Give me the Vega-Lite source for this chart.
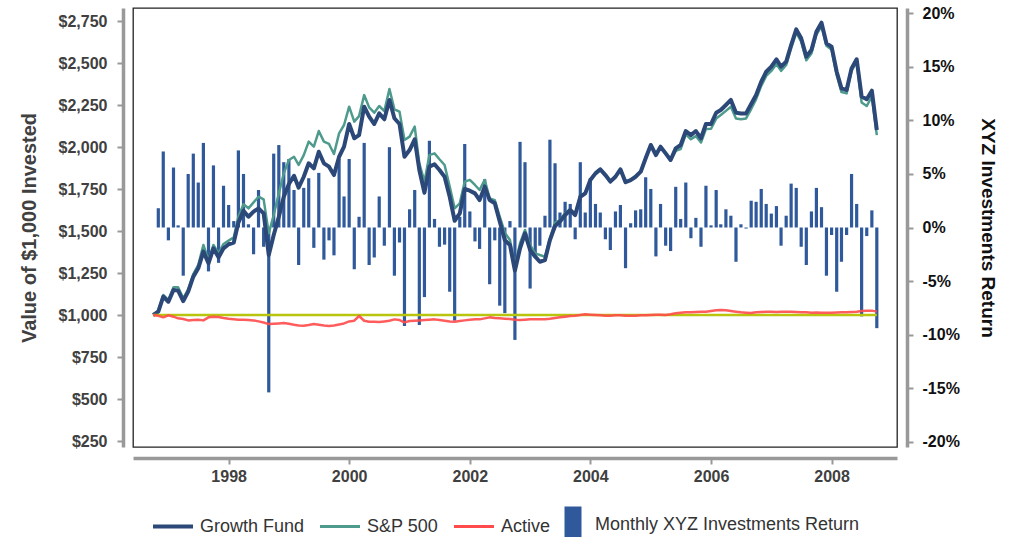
{
"$schema": "https://vega.github.io/schema/vega-lite/v6.json",
"width": 764, "height": 439,
"autosize": {"type": "none"},
"padding": {"left": 133, "top": 8, "right": 112, "bottom": 90},
"data": {"values": [
{"d":"1996-10-01","g":1000,"s":1000,"a":1000,"r":null},
{"d":"1996-11-01","g":1020,"s":1026,"a":995,"r":0.018},
{"d":"1996-12-01","g":1109,"s":1119,"a":986,"r":0.071},
{"d":"1997-01-01","g":1079,"s":1089,"a":998,"r":-0.012},
{"d":"1997-02-01","g":1149,"s":1165,"a":990,"r":0.056},
{"d":"1997-03-01","g":1145,"s":1165,"a":980,"r":0.002},
{"d":"1997-04-01","g":1083,"s":1099,"a":976,"r":-0.045},
{"d":"1997-05-01","g":1139,"s":1153,"a":968,"r":0.050},
{"d":"1997-06-01","g":1228,"s":1244,"a":970,"r":0.069},
{"d":"1997-07-01","g":1278,"s":1298,"a":972,"r":0.042},
{"d":"1997-08-01","g":1377,"s":1417,"a":968,"r":0.079},
{"d":"1997-09-01","g":1308,"s":1327,"a":986,"r":-0.041},
{"d":"1997-10-01","g":1397,"s":1417,"a":990,"r":0.058},
{"d":"1997-11-01","g":1343,"s":1367,"a":988,"r":-0.033},
{"d":"1997-12-01","g":1397,"s":1423,"a":982,"r":0.039},
{"d":"1998-01-01","g":1421,"s":1443,"a":978,"r":0.021},
{"d":"1998-02-01","g":1431,"s":1462,"a":975,"r":0.006},
{"d":"1998-03-01","g":1550,"s":1585,"a":972,"r":0.072},
{"d":"1998-04-01","g":1620,"s":1660,"a":972,"r":0.050},
{"d":"1998-05-01","g":1585,"s":1635,"a":970,"r":0.003},
{"d":"1998-06-01","g":1615,"s":1670,"a":968,"r":-0.025},
{"d":"1998-07-01","g":1635,"s":1704,"a":962,"r":0.035},
{"d":"1998-08-01","g":1605,"s":1688,"a":955,"r":-0.018},
{"d":"1998-09-01","g":1357,"s":1486,"a":946,"r":-0.154},
{"d":"1998-10-01","g":1476,"s":1595,"a":948,"r":0.069},
{"d":"1998-11-01","g":1585,"s":1724,"a":950,"r":0.077},
{"d":"1998-12-01","g":1704,"s":1843,"a":952,"r":0.061},
{"d":"1999-01-01","g":1780,"s":1923,"a":948,"r":0.064},
{"d":"1999-02-01","g":1829,"s":1942,"a":942,"r":0.035},
{"d":"1999-03-01","g":1758,"s":1893,"a":938,"r":-0.035},
{"d":"1999-04-01","g":1823,"s":1952,"a":936,"r":0.037},
{"d":"1999-05-01","g":1903,"s":2032,"a":940,"r":0.046},
{"d":"1999-06-01","g":1873,"s":2002,"a":946,"r":-0.019},
{"d":"1999-07-01","g":1972,"s":2095,"a":942,"r":0.051},
{"d":"1999-08-01","g":1903,"s":2032,"a":938,"r":-0.030},
{"d":"1999-09-01","g":1883,"s":2018,"a":935,"r":-0.012},
{"d":"1999-10-01","g":1833,"s":1958,"a":938,"r":-0.026},
{"d":"1999-11-01","g":1942,"s":2081,"a":944,"r":0.064},
{"d":"1999-12-01","g":2002,"s":2131,"a":950,"r":0.029},
{"d":"2000-01-01","g":2137,"s":2240,"a":962,"r":0.064},
{"d":"2000-02-01","g":2052,"s":2151,"a":966,"r":-0.039},
{"d":"2000-03-01","g":2071,"s":2184,"a":994,"r":0.010},
{"d":"2000-04-01","g":2240,"s":2309,"a":966,"r":0.079},
{"d":"2000-05-01","g":2181,"s":2236,"a":960,"r":-0.035},
{"d":"2000-06-01","g":2137,"s":2204,"a":960,"r":-0.028},
{"d":"2000-07-01","g":2200,"s":2244,"a":958,"r":0.029},
{"d":"2000-08-01","g":2165,"s":2214,"a":962,"r":-0.017},
{"d":"2000-09-01","g":2280,"s":2345,"a":966,"r":0.075},
{"d":"2000-10-01","g":2171,"s":2224,"a":974,"r":-0.045},
{"d":"2000-11-01","g":2137,"s":2210,"a":970,"r":-0.014},
{"d":"2000-12-01","g":1942,"s":2042,"a":956,"r":-0.092},
{"d":"2001-01-01","g":1982,"s":2062,"a":964,"r":0.017},
{"d":"2001-02-01","g":2046,"s":2121,"a":966,"r":0.035},
{"d":"2001-03-01","g":1863,"s":1903,"a":968,"r":-0.091},
{"d":"2001-04-01","g":1728,"s":1794,"a":970,"r":-0.065},
{"d":"2001-05-01","g":1883,"s":1952,"a":972,"r":0.081},
{"d":"2001-06-01","g":1897,"s":1962,"a":974,"r":0.008},
{"d":"2001-07-01","g":1863,"s":1927,"a":970,"r":-0.018},
{"d":"2001-08-01","g":1823,"s":1893,"a":966,"r":-0.016},
{"d":"2001-09-01","g":1704,"s":1764,"a":962,"r":-0.060},
{"d":"2001-10-01","g":1561,"s":1635,"a":960,"r":-0.087},
{"d":"2001-11-01","g":1605,"s":1665,"a":964,"r":0.010},
{"d":"2001-12-01","g":1750,"s":1794,"a":968,"r":0.078},
{"d":"2002-01-01","g":1740,"s":1804,"a":972,"r":0.015},
{"d":"2002-02-01","g":1724,"s":1774,"a":974,"r":-0.013},
{"d":"2002-03-01","g":1684,"s":1744,"a":974,"r":-0.020},
{"d":"2002-04-01","g":1764,"s":1804,"a":980,"r":0.045},
{"d":"2002-05-01","g":1684,"s":1694,"a":986,"r":-0.053},
{"d":"2002-06-01","g":1665,"s":1684,"a":982,"r":-0.012},
{"d":"2002-07-01","g":1556,"s":1585,"a":980,"r":-0.073},
{"d":"2002-08-01","g":1445,"s":1490,"a":978,"r":-0.080},
{"d":"2002-09-01","g":1417,"s":1446,"a":976,"r":0.006},
{"d":"2002-10-01","g":1264,"s":1288,"a":972,"r":-0.105},
{"d":"2002-11-01","g":1397,"s":1427,"a":970,"r":0.080},
{"d":"2002-12-01","g":1486,"s":1506,"a":972,"r":0.061},
{"d":"2003-01-01","g":1387,"s":1417,"a":974,"r":-0.057},
{"d":"2003-02-01","g":1347,"s":1367,"a":974,"r":-0.027},
{"d":"2003-03-01","g":1317,"s":1357,"a":974,"r":-0.017},
{"d":"2003-04-01","g":1327,"s":1347,"a":975,"r":0.011},
{"d":"2003-05-01","g":1446,"s":1456,"a":978,"r":0.082},
{"d":"2003-06-01","g":1530,"s":1550,"a":982,"r":0.060},
{"d":"2003-07-01","g":1556,"s":1565,"a":986,"r":0.014},
{"d":"2003-08-01","g":1595,"s":1605,"a":990,"r":0.024},
{"d":"2003-09-01","g":1625,"s":1629,"a":994,"r":0.022},
{"d":"2003-10-01","g":1595,"s":1601,"a":996,"r":-0.011},
{"d":"2003-11-01","g":1704,"s":1708,"a":1000,"r":0.061},
{"d":"2003-12-01","g":1724,"s":1727,"a":1004,"r":0.014},
{"d":"2004-01-01","g":1804,"s":1807,"a":1002,"r":0.046},
{"d":"2004-02-01","g":1843,"s":1846,"a":1000,"r":0.022},
{"d":"2004-03-01","g":1867,"s":1870,"a":998,"r":0.014},
{"d":"2004-04-01","g":1833,"s":1836,"a":996,"r":-0.011},
{"d":"2004-05-01","g":1794,"s":1797,"a":996,"r":-0.021},
{"d":"2004-06-01","g":1823,"s":1826,"a":998,"r":0.015},
{"d":"2004-07-01","g":1867,"s":1870,"a":998,"r":0.021},
{"d":"2004-08-01","g":1790,"s":1793,"a":996,"r":-0.038},
{"d":"2004-09-01","g":1803,"s":1806,"a":995,"r":0.004},
{"d":"2004-10-01","g":1823,"s":1826,"a":996,"r":0.016},
{"d":"2004-11-01","g":1853,"s":1856,"a":998,"r":0.017},
{"d":"2004-12-01","g":1933,"s":1936,"a":998,"r":0.047},
{"d":"2005-01-01","g":2012,"s":2015,"a":1000,"r":0.036},
{"d":"2005-02-01","g":1952,"s":1955,"a":1002,"r":-0.027},
{"d":"2005-03-01","g":2002,"s":2002,"a":1002,"r":0.022},
{"d":"2005-04-01","g":1962,"s":1962,"a":1000,"r":-0.017},
{"d":"2005-05-01","g":1923,"s":1918,"a":1004,"r":-0.022},
{"d":"2005-06-01","g":1992,"s":1977,"a":1010,"r":0.038},
{"d":"2005-07-01","g":2012,"s":1987,"a":1014,"r":0.008},
{"d":"2005-08-01","g":2095,"s":2075,"a":1016,"r":0.042},
{"d":"2005-09-01","g":2071,"s":2046,"a":1016,"r":-0.010},
{"d":"2005-10-01","g":2095,"s":2065,"a":1018,"r":0.009},
{"d":"2005-11-01","g":2052,"s":2027,"a":1020,"r":-0.018},
{"d":"2005-12-01","g":2137,"s":2107,"a":1020,"r":0.039},
{"d":"2006-01-01","g":2137,"s":2109,"a":1024,"r":0.002},
{"d":"2006-02-01","g":2204,"s":2169,"a":1028,"r":0.035},
{"d":"2006-03-01","g":2220,"s":2190,"a":1030,"r":0.003},
{"d":"2006-04-01","g":2250,"s":2215,"a":1028,"r":0.017},
{"d":"2006-05-01","g":2280,"s":2240,"a":1024,"r":0.011},
{"d":"2006-06-01","g":2204,"s":2169,"a":1020,"r":-0.032},
{"d":"2006-07-01","g":2200,"s":2165,"a":1016,"r":0.003},
{"d":"2006-08-01","g":2200,"s":2170,"a":1014,"r":-0.001},
{"d":"2006-09-01","g":2256,"s":2226,"a":1012,"r":0.025},
{"d":"2006-10-01","g":2310,"s":2285,"a":1016,"r":0.024},
{"d":"2006-11-01","g":2389,"s":2364,"a":1018,"r":0.036},
{"d":"2006-12-01","g":2448,"s":2423,"a":1020,"r":0.022},
{"d":"2007-01-01","g":2478,"s":2453,"a":1020,"r":0.013},
{"d":"2007-02-01","g":2522,"s":2494,"a":1018,"r":0.020},
{"d":"2007-03-01","g":2478,"s":2453,"a":1020,"r":-0.017},
{"d":"2007-04-01","g":2508,"s":2488,"a":1020,"r":0.011},
{"d":"2007-05-01","g":2607,"s":2587,"a":1020,"r":0.041},
{"d":"2007-06-01","g":2700,"s":2680,"a":1018,"r":0.037},
{"d":"2007-07-01","g":2647,"s":2627,"a":1016,"r":-0.018},
{"d":"2007-08-01","g":2538,"s":2516,"a":1016,"r":-0.035},
{"d":"2007-09-01","g":2577,"s":2557,"a":1014,"r":0.015},
{"d":"2007-10-01","g":2686,"s":2668,"a":1015,"r":0.037},
{"d":"2007-11-01","g":2740,"s":2720,"a":1014,"r":0.019},
{"d":"2007-12-01","g":2617,"s":2602,"a":1014,"r":-0.045},
{"d":"2008-01-01","g":2597,"s":2579,"a":1014,"r":-0.007},
{"d":"2008-02-01","g":2448,"s":2428,"a":1015,"r":-0.060},
{"d":"2008-03-01","g":2349,"s":2327,"a":1016,"r":-0.032},
{"d":"2008-04-01","g":2339,"s":2319,"a":1016,"r":-0.007},
{"d":"2008-05-01","g":2468,"s":2453,"a":1018,"r":0.050},
{"d":"2008-06-01","g":2522,"s":2507,"a":1020,"r":0.022},
{"d":"2008-07-01","g":2300,"s":2265,"a":1024,"r":-0.083},
{"d":"2008-08-01","g":2284,"s":2244,"a":1026,"r":-0.008},
{"d":"2008-09-01","g":2335,"s":2300,"a":1026,"r":0.016},
{"d":"2008-10-01","g":2101,"s":2071,"a":1020,"r":-0.094}
]},
"encoding": {
 "x": {"field": "d", "type": "temporal", "title": null,
       "scale": {"type": "utc", "domain": [{"year": 1996, "month": 7, "date": 1, "utc": true}, {"year": 2009, "month": 1, "date": 1, "utc": true}]},
       "axis": {"offset": 11, "labelPadding": 4, "labelColor": "#404040", "format": "%Y",
                "values": [{"year": 1998, "month": 1, "date": 1, "utc": true}, {"year": 2000, "month": 1, "date": 1, "utc": true}, {"year": 2002, "month": 1, "date": 1, "utc": true}, {"year": 2004, "month": 1, "date": 1, "utc": true}, {"year": 2006, "month": 1, "date": 1, "utc": true}, {"year": 2008, "month": 1, "date": 1, "utc": true}]}}
},
"layer": [
 {
  "mark": {"type": "bar", "width": 3.2},
  "encoding": {
   "y": {"field": "r", "type": "quantitative", "title": "XYZ Investments Return",
         "scale": {"domain": [-0.205, 0.205], "nice": false, "zero": false},
         "axis": {"orient": "right", "offset": 10, "labelPadding": 9, "labelColor": "#111111", "titleColor": "#111111", "titleFontSize": 19, "titlePadding": 18,
                  "values": [-0.2, -0.15, -0.1, -0.05, 0, 0.05, 0.1, 0.15, 0.2],
                  "labelExpr": "(datum.value < -0.0001 ? '-' : '') + format(abs(datum.value) * 100, '.0f') + '%'"}},
   "color": {"datum": "Monthly XYZ Investments Return",
             "scale": {"domain": ["Growth Fund", "S&P 500", "Active", "Monthly XYZ Investments Return"], "range": ["#2B4878", "#4E9A8C", "#FF4B4B", "#30599B"]},
             "legend": {"title": null, "orient": "none", "direction": "horizontal", "legendX": 31, "legendY": 501, "padding": 0,
                        "symbolSize": 1600, "labelOffset": 18, "columnPadding": 9, "labelLimit": 400, "labelFontSize": 18, "labelColor": "#333333", "labelFont": "Liberation Sans", "labelFontWeight": "normal",
                        "encode": {"symbols": {"update": {
                          "shape": {"signal": "datum.value === 'Monthly XYZ Investments Return' ? 'M-1,-0.5H-0.3V1H-1Z' : 'stroke'"},
                          "fill": {"signal": "datum.value === 'Monthly XYZ Investments Return' ? '#30599B' : 'transparent'"},
                          "stroke": {"signal": "datum.value === 'Monthly XYZ Investments Return' ? 'transparent' : scale('color', datum.value)"},
                          "strokeWidth": {"signal": "datum.value === 'Growth Fund' ? 4 : 3"},
                          "opacity": {"value": 1}}},
                          "labels": {"update": {"dx": {"signal": "datum.value === 'Monthly XYZ Investments Return' ? -18 : 0"},
                                                "dy": {"signal": "datum.value === 'Monthly XYZ Investments Return' ? 7 : 0"}}}}}}
  }
 },
 {
  "layer": [
   {
    "mark": {"type": "line", "strokeWidth": 2.5, "strokeJoin": "round"},
    "encoding": {
     "y": {"field": "s", "type": "quantitative", "title": "Value of $1,000 Invested",
           "scale": {"domain": [214.3, 2827.4], "nice": false, "zero": false},
           "axis": {"orient": "left", "offset": 10, "labelPadding": 10, "labelColor": "#404040", "titleColor": "#404040", "titleFontSize": 20, "titlePadding": 19,
                    "values": [250, 500, 750, 1000, 1250, 1500, 1750, 2000, 2250, 2500, 2750], "format": "$,.0f"}},
     "color": {"datum": "S&P 500"}
    }
   },
   {
    "mark": {"type": "line", "strokeWidth": 4, "strokeJoin": "round"},
    "encoding": {
     "y": {"field": "g", "type": "quantitative", "title": "Value of $1,000 Invested",
           "scale": {"domain": [214.3, 2827.4], "nice": false, "zero": false},
           "axis": {"orient": "left", "offset": 10, "labelPadding": 10, "labelColor": "#404040", "titleColor": "#404040", "titleFontSize": 20, "titlePadding": 19,
                    "values": [250, 500, 750, 1000, 1250, 1500, 1750, 2000, 2250, 2500, 2750], "format": "$,.0f"}},
     "color": {"datum": "Growth Fund"}
    }
   },
   {
    "mark": {"type": "line", "strokeWidth": 2.5, "color": "#B9C40C"},
    "encoding": {
     "y": {"datum": 1000, "type": "quantitative", "title": "Value of $1,000 Invested",
           "scale": {"domain": [214.3, 2827.4], "nice": false, "zero": false},
           "axis": {"orient": "left", "offset": 10, "labelPadding": 10, "labelColor": "#404040", "titleColor": "#404040", "titleFontSize": 20, "titlePadding": 19,
                    "values": [250, 500, 750, 1000, 1250, 1500, 1750, 2000, 2250, 2500, 2750], "format": "$,.0f"}}
    }
   },
   {
    "mark": {"type": "line", "strokeWidth": 2.5, "strokeJoin": "round", "opacity": 0.9},
    "encoding": {
     "y": {"field": "a", "type": "quantitative", "title": "Value of $1,000 Invested",
           "scale": {"domain": [214.3, 2827.4], "nice": false, "zero": false},
           "axis": {"orient": "left", "offset": 10, "labelPadding": 10, "labelColor": "#404040", "titleColor": "#404040", "titleFontSize": 20, "titlePadding": 19,
                    "values": [250, 500, 750, 1000, 1250, 1500, 1750, 2000, 2250, 2500, 2750], "format": "$,.0f"}},
     "color": {"datum": "Active"}
    }
   }
  ]
 }
],
"resolve": {"scale": {"y": "independent"}},
"config": {
 "font": "Liberation Sans",
 "view": {"stroke": "#222222", "strokeWidth": 1.3},
 "axis": {"grid": false, "domainColor": "#999999", "domainWidth": 3.5, "tickColor": "#999999", "tickWidth": 2, "tickSize": 6,
          "labelFont": "Liberation Sans", "labelFontSize": 16, "labelFontWeight": "bold",
          "titleFont": "Liberation Sans", "titleFontWeight": "bold"}
}
}
